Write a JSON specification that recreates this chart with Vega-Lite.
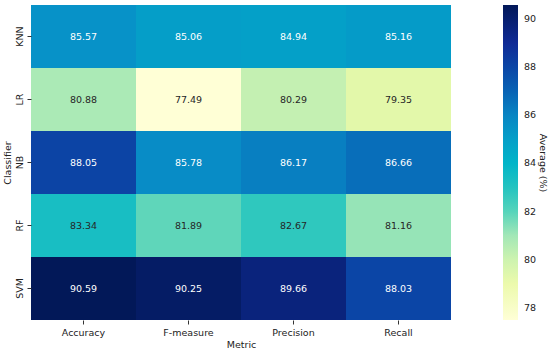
{
  "$schema": "https://vega.github.io/schema/vega-lite/v6.json",
  "autosize": "none",
  "width": 420,
  "height": 315,
  "padding": {"left": 31, "top": 5, "right": 99, "bottom": 30},
  "background": "white",
  "config": {"font": "DejaVu Sans", "view": {"stroke": null}},
  "data": {"values": [
    {"Classifier": "KNN", "Metric": "Accuracy", "value": 85.57},
    {"Classifier": "KNN", "Metric": "F-measure", "value": 85.06},
    {"Classifier": "KNN", "Metric": "Precision", "value": 84.94},
    {"Classifier": "KNN", "Metric": "Recall", "value": 85.16},
    {"Classifier": "LR", "Metric": "Accuracy", "value": 80.88},
    {"Classifier": "LR", "Metric": "F-measure", "value": 77.49},
    {"Classifier": "LR", "Metric": "Precision", "value": 80.29},
    {"Classifier": "LR", "Metric": "Recall", "value": 79.35},
    {"Classifier": "NB", "Metric": "Accuracy", "value": 88.05},
    {"Classifier": "NB", "Metric": "F-measure", "value": 85.78},
    {"Classifier": "NB", "Metric": "Precision", "value": 86.17},
    {"Classifier": "NB", "Metric": "Recall", "value": 86.66},
    {"Classifier": "RF", "Metric": "Accuracy", "value": 83.34},
    {"Classifier": "RF", "Metric": "F-measure", "value": 81.89},
    {"Classifier": "RF", "Metric": "Precision", "value": 82.67},
    {"Classifier": "RF", "Metric": "Recall", "value": 81.16},
    {"Classifier": "SVM", "Metric": "Accuracy", "value": 90.59},
    {"Classifier": "SVM", "Metric": "F-measure", "value": 90.25},
    {"Classifier": "SVM", "Metric": "Precision", "value": 89.66},
    {"Classifier": "SVM", "Metric": "Recall", "value": 88.03}
  ]},
  "encoding": {
    "x": {"field": "Metric", "type": "nominal", "title": "Metric",
      "scale": {"paddingInner": 0, "paddingOuter": 0},
      "axis": {"labelAngle": 0, "domain": false, "tickSize": 4, "tickColor": "#333", "labelFontSize": 9.5, "labelColor": "#222", "titleFontSize": 9.5, "titleFontWeight": "normal", "titleColor": "#222", "labelPadding": 3, "titlePadding": 3}},
    "y": {"field": "Classifier", "type": "nominal", "title": "Classifier",
      "scale": {"paddingInner": 0, "paddingOuter": 0},
      "axis": {"labelAngle": -90, "labelAlign": "center", "labelBaseline": "bottom", "domain": false, "tickSize": 4, "tickColor": "#333", "labelFontSize": 9.5, "labelColor": "#222", "titleFontSize": 9.5, "titleFontWeight": "normal", "titleColor": "#222", "labelPadding": 3, "titlePadding": 2}}
  },
  "layer": [
    {
      "mark": {"type": "rect", "strokeWidth": 0},
      "encoding": {
        "color": {"field": "value", "type": "quantitative", "title": "Average (%)",
          "scale": {
            "domain": [77.49, 79.1275, 80.765, 82.4025, 84.04, 85.6775, 87.315, 88.9525, 90.59],
            "range": ["#ffffd6", "#eafaa8", "#b4ecb6", "#38ccbc", "#00b4c8", "#0890c8", "#0858b0", "#102c98", "#021858"],
            "interpolate": "rgb"
          },
          "legend": {
            "orient": "none", "legendX": 472, "legendY": 0,
            "gradientLength": 315, "gradientThickness": 15,
            "gradientStrokeWidth": 0,
            "values": [78, 80, 82, 84, 86, 88, 90],
            "titleOrient": "right", "titleAngle": 270, "titleAnchor": "middle", "titleAlign": "center", "titleBaseline": "bottom",
            "titleFontSize": 9.5, "titleFontWeight": "normal", "titleColor": "#222", "titlePadding": 2,
            "labelFontSize": 9.5, "labelColor": "#222", "labelOffset": 6
          }
        }
      }
    },
    {
      "mark": {"type": "text", "fontSize": 9.5},
      "encoding": {
        "text": {"field": "value", "type": "quantitative", "format": ".2f"},
        "color": {"condition": {"test": "datum.value > 84", "value": "white"}, "value": "#262626"}
      }
    }
  ]
}
